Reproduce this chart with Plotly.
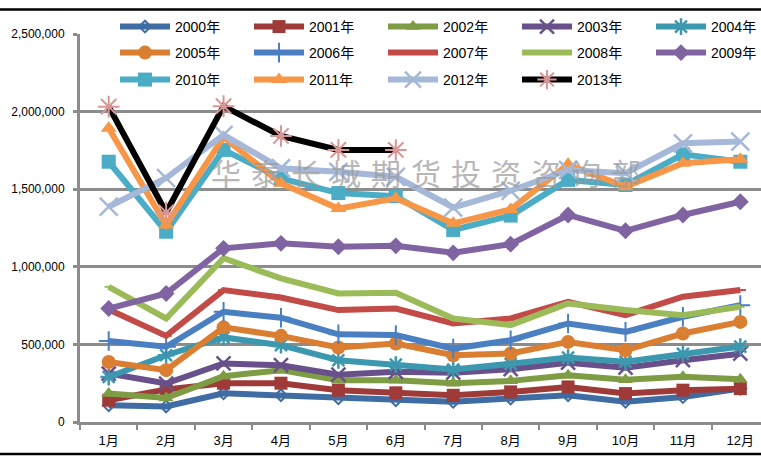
import plotly.graph_objects as go

months = ["1月", "2月", "3月", "4月", "5月", "6月", "7月", "8月", "9月", "10月", "11月", "12月"]
years = ["2000年", "2001年", "2002年", "2003年", "2004年", "2005年", "2006年",
         "2007年", "2008年", "2009年", "2010年", "2011年", "2012年", "2013年"]

v2000 = [108000, 100000, 185000, 172000, 153000, 140000, 130000, 151000, 172000, 130000, 161000, 215000]
v2001 = [140000, 210000, 250000, 250000, 205000, 188000, 172000, 194000, 226000, 183000, 205000, 215000]
v2002 = [183000, 155000, 295000, 334000, 269000, 269000, 250000, 265000, 301000, 272000, 291000, 275000]
v2003 = [312000, 248000, 377000, 366000, 305000, 323000, 318000, 340000, 382000, 350000, 398000, 440000]
v2004 = [290000, 430000, 545000, 495000, 398000, 370000, 338000, 375000, 415000, 388000, 440000, 486000]
v2005 = [387000, 334000, 610000, 555000, 480000, 506000, 430000, 441000, 516000, 462000, 570000, 645000]
v2006 = [522000, 485000, 710000, 672000, 565000, 560000, 473000, 527000, 635000, 581000, 678000, 753000]
v2007 = [725000, 555000, 850000, 802000, 721000, 731000, 635000, 667000, 774000, 688000, 807000, 850000]
v2008 = [871000, 667000, 1055000, 925000, 828000, 832000, 667000, 624000, 764000, 721000, 688000, 742000]
v2009 = [731000, 828000, 1119000, 1151000, 1129000, 1135000, 1090000, 1146000, 1334000, 1232000, 1334000, 1419000]
v2010 = [1677000, 1226000, 1753000, 1570000, 1475000, 1455000, 1237000, 1330000, 1560000, 1527000, 1725000, 1677000]
v2011 = [1893000, 1269000, 1835000, 1538000, 1375000, 1441000, 1280000, 1370000, 1660000, 1516000, 1667000, 1693000]
v2012 = [1387000, 1572000, 1850000, 1635000, 1612000, 1580000, 1382000, 1490000, 1624000, 1603000, 1796000, 1807000]
v2013 = [2032000, 1350000, 2035000, 1843000, 1753000, 1753000, None, None, None, None, None, None]

series = [v2000, v2001, v2002, v2003, v2004, v2005, v2006, v2007, v2008, v2009, v2010, v2011, v2012, v2013]

colors = ["#3F6CA3", "#9E3B38", "#7E9C43", "#68518A", "#3C98AE", "#DA7E32", "#4A7FC1",
          "#C24B48", "#9BBB59", "#8064A2", "#4BACC6", "#F79646", "#A5B8D8", "#000000"]
# (symbol, size, marker line width, marker color override)
markers = [
    ("diamond-open", 9, 2, None),
    ("square", 13, 0, None),
    ("triangle-up", 13, 0, None),
    ("x-thin-open", 14, 2.5, None),
    ("asterisk-open", 14, 2.5, None),
    ("circle", 14, 0, None),
    ("cross-thin-open", 14, 2, None),
    ("line-ew-open", 8, 2, None),
    ("line-ew-open", 6, 2, None),
    ("diamond", 13, 0, None),
    ("square", 14, 0, None),
    ("triangle-up", 14, 0, None),
    ("x-thin-open", 18, 2.5, None),
    ("asterisk-open", 18, 2, "#D99694"),
]
legend_ids = ["legend"] * 5 + ["legend2"] * 5 + ["legend3"] * 4

fig = go.Figure()
for i, (name, vals) in enumerate(zip(years, series)):
    sym, size, mlw, mcol = markers[i]
    mc = mcol or colors[i]
    fig.add_trace(go.Scatter(
        x=months, y=vals, name=name, mode="lines+markers",
        line=dict(color=colors[i], width=6),
        marker=dict(symbol=sym, size=size, color=mc, line=dict(color=mc, width=mlw)),
        legend=legend_ids[i],
    ))

font_family = "Liberation Sans, Noto Sans CJK SC, sans-serif"
W, H = 761, 457
ml, mr, mt, mb = 80, 0, 0, 35
pw = W - ml - mr
paper_h = H - mt - mb          # 422
plot_top = 34                  # pixel row of the top gridline
ph = H - mb - plot_top         # 388

def px_x(px):
    return (px - ml) / pw

def px_y(py):
    return (H - mb - py) / paper_h

legend_common = dict(orientation="h", xanchor="left", yanchor="middle",
                     bgcolor="rgba(0,0,0,0)", font=dict(family=font_family, size=14, color="#000"),
                     entrywidth=69, entrywidthmode="pixels", itemwidth=50, traceorder="normal")

fig.update_layout(
    width=W, height=H,
    margin=dict(l=ml, r=mr, t=mt, b=mb, autoexpand=False),
    paper_bgcolor="white", plot_bgcolor="white",
    font=dict(family=font_family, size=12, color="#000"),
    legend=dict(x=px_x(115), y=px_y(27), **legend_common),
    legend2=dict(x=px_x(115), y=px_y(53), **legend_common),
    legend3=dict(x=px_x(115), y=px_y(80), **legend_common),
    xaxis=dict(
        type="category", range=[-0.5, 11.36],
        showline=True, linecolor="#8C8C8C", linewidth=3,
        ticks="outside", ticklen=5, tickcolor="#8C8C8C", tickwidth=2,
        tickson="boundaries", showgrid=False,
        tickfont=dict(family=font_family, size=13, color="#000"),
        ticklabelstandoff=4,
    ),
    yaxis=dict(
        domain=[0, ph / paper_h],
        range=[0, 2500000], tickvals=[0, 500000, 1000000, 1500000, 2000000, 2500000],
        tickformat=",d",
        showline=True, linecolor="#8C8C8C", linewidth=3,
        showgrid=True, gridcolor="#8C8C8C", gridwidth=2.5,
        ticks="outside", ticklen=4, tickcolor="#8C8C8C", tickwidth=2.5,
        zeroline=False,
        tickfont=dict(family=font_family, size=12, color="#000"),
        ticklabelstandoff=6,
    ),
    showlegend=True,
)

watermark = "\u2004".join("华泰长城期货投资咨询部")
fig.add_annotation(
    text=watermark, xref="paper", yref="paper", x=px_x(426), y=px_y(172),
    xanchor="center", yanchor="middle", showarrow=False,
    font=dict(family="Noto Sans CJK SC", size=30, color="#9A9A9A"), opacity=0.7,
)

# outer frame lines (top and bottom)
fig.add_shape(type="line", xref="paper", yref="paper", x0=px_x(0), x1=px_x(W), y0=px_y(9.5), y1=px_y(9.5),
              line=dict(color="#000", width=2.5))
fig.add_shape(type="line", xref="paper", yref="paper", x0=px_x(0), x1=px_x(W), y0=px_y(454), y1=px_y(454),
              line=dict(color="#000", width=2.5))

fig.write_html("out.html", post_script="document.body.style.margin='0';",
               config={"displayModeBar": False})
